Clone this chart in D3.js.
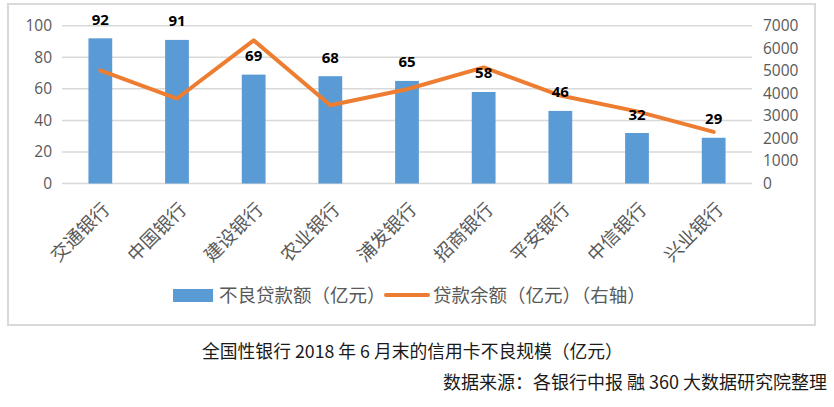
<!DOCTYPE html>
<html>
<head>
<meta charset="utf-8">
<script src="https://cdn.jsdelivr.net/npm/d3@7"></script>
<style>
  body { margin: 0; background: #fff; }
  svg { display: block; }
</style>
</head>
<body>
<svg id="chart"></svg>
<script>
// data
const banks = ["交通银行", "中国银行", "建设银行", "农业银行", "浦发银行", "招商银行", "平安银行", "中信银行", "兴业银行"];
const badLoans = [92, 91, 69, 68, 65, 58, 46, 32, 29];
const loanBalance = [5020, 3770, 6350, 3470, 4180, 5150, 3900, 3200, 2290];
const leftTicks = [0, 20, 40, 60, 80, 100];
const rightTicks = [0, 1000, 2000, 3000, 4000, 5000, 6000, 7000];
const legendNames = ["不良贷款额（亿元）", "贷款余额（亿元）（右轴）"];
const title = "全国性银行 2018 年 6 月末的信用卡不良规模（亿元）";
const source = "数据来源：各银行中报 融 360 大数据研究院整理";

const W = 834, H = 407;
const plot = { left: 62, right: 752, top: 25.7, bottom: 183.5 };
const cjk = "'Noto Sans CJK SC', 'Noto Sans', sans-serif";
const num = "'Open Sans', 'Liberation Sans', sans-serif";

const svg = d3.select("#chart").attr("width", W).attr("height", H);

// outer frame
svg.append("rect")
  .attr("x", 8).attr("y", 4)
  .attr("width", 807).attr("height", 321)
  .attr("fill", "#fff")
  .attr("stroke", "#d9d9d9")
  .attr("stroke-width", 2);

const x = d3.scaleBand(banks, [plot.left, plot.right])
  .paddingInner(0.69)
  .paddingOuter(0.345);
const yL = d3.scaleLinear([0, 100], [plot.bottom, plot.top]);
const yR = d3.scaleLinear([0, 7000], [plot.bottom, plot.top]);

// gridlines
svg.append("g")
  .selectAll("line")
  .data(leftTicks)
  .join("line")
  .attr("x1", plot.left).attr("x2", plot.right)
  .attr("y1", d => yL(d)).attr("y2", d => yL(d))
  .attr("stroke", "#d9d9d9")
  .attr("stroke-width", 1.5);

// left axis
const leftAxis = svg.append("g")
  .attr("transform", `translate(${plot.left - 10},0)`)
  .call(d3.axisLeft(yL).tickValues(leftTicks).tickSize(0).tickPadding(0));
leftAxis.select(".domain").remove();
leftAxis.selectAll("text")
  .attr("fill", "#595959")
  .style("font-family", num)
  .style("font-size", "15.5px");

// right axis
const rightAxis = svg.append("g")
  .attr("transform", `translate(${plot.right + 11},0)`)
  .call(d3.axisRight(yR).tickValues(rightTicks).tickFormat(d3.format("d")).tickSize(0).tickPadding(0));
rightAxis.select(".domain").remove();
rightAxis.selectAll("text")
  .attr("fill", "#595959")
  .style("font-family", num)
  .style("font-size", "15.5px");

// bars
svg.append("g")
  .selectAll("rect")
  .data(badLoans)
  .join("rect")
  .attr("x", (d, i) => x(banks[i]))
  .attr("width", x.bandwidth())
  .attr("y", d => yL(d))
  .attr("height", d => yL(0) - yL(d))
  .attr("fill", "#5b9bd5");

// balance line
const line = d3.line()
  .x((d, i) => x(banks[i]) + x.bandwidth() / 2)
  .y(d => yR(d));

svg.append("path")
  .datum(loanBalance)
  .attr("d", line)
  .attr("fill", "none")
  .attr("stroke", "#ed7d31")
  .attr("stroke-width", 4)
  .attr("stroke-linejoin", "round")
  .attr("stroke-linecap", "round");

// bar value labels
svg.append("g")
  .selectAll("text")
  .data(badLoans)
  .join("text")
  .attr("x", (d, i) => x(banks[i]) + x.bandwidth() / 2)
  .attr("y", d => yL(d) - 13.5)
  .attr("text-anchor", "middle")
  .style("font-family", num)
  .style("font-weight", "bold")
  .style("font-size", "15px")
  .attr("fill", "#000")
  .text(d => d);

// category labels
svg.append("g")
  .selectAll("text")
  .data(banks)
  .join("text")
  .attr("transform", d => `translate(${x(d) + x.bandwidth() / 2 + 6},206) rotate(-45)`)
  .attr("dy", "0.35em")
  .attr("text-anchor", "end")
  .style("font-family", cjk)
  .style("font-size", "18.5px")
  .attr("fill", "#595959")
  .text(d => d);

// legend
const legend = svg.append("g");
legend.append("rect")
  .attr("x", 173).attr("y", 289)
  .attr("width", 40).attr("height", 13)
  .attr("fill", "#5b9bd5");
legend.append("text")
  .attr("x", 219).attr("y", 296)
  .attr("dy", "0.35em")
  .style("font-family", cjk)
  .style("font-size", "18.5px")
  .attr("fill", "#595959")
  .text(legendNames[0]);
legend.append("line")
  .attr("x1", 386).attr("x2", 428)
  .attr("y1", 295).attr("y2", 295)
  .attr("stroke", "#ed7d31")
  .attr("stroke-width", 4)
  .attr("stroke-linecap", "round");
legend.append("text")
  .attr("x", 433).attr("y", 296)
  .attr("dy", "0.35em")
  .style("font-family", cjk)
  .style("font-size", "18.5px")
  .attr("fill", "#595959")
  .text(legendNames[1]);

// caption and source
svg.append("text")
  .attr("x", 202).attr("y", 352)
  .attr("dy", "0.35em")
  .style("font-family", cjk)
  .style("font-size", "17.8px")
  .attr("fill", "#1a1a1a")
  .text(title);

svg.append("text")
  .attr("x", 827).attr("y", 383)
  .attr("dy", "0.35em")
  .attr("text-anchor", "end")
  .style("font-family", cjk)
  .style("font-size", "18px")
  .attr("fill", "#1a1a1a")
  .text(source);
</script>
</body>
</html>
